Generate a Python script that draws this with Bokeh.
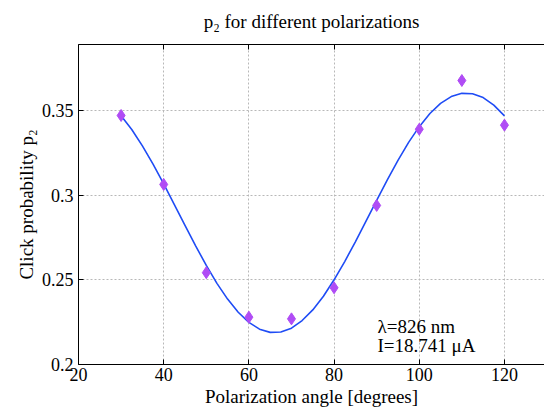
from bokeh.plotting import figure
from bokeh.models import Range1d, LinearAxis, FixedTicker, Label, Title
from bokeh.embed import file_html
from bokeh.resources import INLINE

# Measured data (diamonds)
angle = [30, 40, 50, 60, 70, 80, 90, 100, 110, 120]
p2 = [0.3473, 0.3065, 0.2543, 0.2280, 0.2270, 0.2454, 0.2941, 0.3392, 0.3680, 0.3416]

# Fit curve, values every 2.5 degrees
fit_angle = [30, 32.5, 35, 37.5, 40, 42.5, 45, 47.5, 50, 52.5, 55, 57.5, 60, 62.5,
             65, 67.5, 70, 72.5, 75, 77.5, 80, 82.5, 85, 87.5, 90, 92.5, 95, 97.5,
             100, 102.5, 105, 107.5, 110, 112.5, 115, 117.5, 120]
fit_p2 = [0.3471, 0.3390, 0.3293, 0.3185, 0.3069, 0.2946, 0.2823, 0.2702, 0.2586,
          0.2480, 0.2387, 0.2309, 0.2249, 0.2209, 0.2190, 0.2192, 0.2215, 0.2260,
          0.2323, 0.2404, 0.2501, 0.2609, 0.2726, 0.2848, 0.2971, 0.3092, 0.3208,
          0.3314, 0.3407, 0.3485, 0.3545, 0.3585, 0.3604, 0.3602, 0.3579, 0.3534,
          0.3471]

x_ticks = [20, 40, 60, 80, 100, 120]
y_ticks = [0.2, 0.25, 0.3, 0.35]
y_tick_labels = ["0.2", "0.25", "0.3", "0.35"]

title_text = "p\u2082 for different polarizations"
note_lines = ["\u03bb=826 nm", "I=18.741 \u03bcA"]

FONT = "Liberation Serif"

p = figure(width=544, height=410, output_backend="svg", toolbar_location=None,
           x_range=Range1d(20, 129.4), y_range=Range1d(0.2, 0.3893),
           min_border_left=78, min_border_right=0, min_border_top=44,
           min_border_bottom=46, x_axis_location=None, y_axis_location=None)
p.outline_line_color = None
p.background_fill_color = "white"
p.border_fill_color = "white"

p.title.text = title_text
p.title.align = "center"
p.title.text_font = FONT
p.title.text_font_size = "19px"
p.title.text_font_style = "normal"
p.title.text_color = "black"

def style_axis(ax, labels=True):
    ax.axis_line_color = "black"
    ax.axis_line_width = 1
    ax.major_tick_in = 5
    ax.major_tick_out = 0
    ax.minor_tick_line_color = None
    ax.major_tick_line_color = "black"
    ax.major_label_text_font = FONT
    ax.major_label_text_font_size = "18px"
    ax.major_label_text_color = "black" if labels else None
    ax.axis_label_text_font = FONT
    ax.axis_label_text_font_size = "19px"
    ax.axis_label_text_font_style = "normal"
    ax.axis_label_text_color = "black"

xb = LinearAxis(ticker=FixedTicker(ticks=x_ticks), axis_label="Polarization angle [degrees]")
style_axis(xb)
xb.major_label_standoff = 3
xb.axis_label_standoff = 2
p.add_layout(xb, "below")

xt = LinearAxis(ticker=FixedTicker(ticks=x_ticks))
style_axis(xt, labels=False)
xt.major_label_text_font_size = "0px"
p.add_layout(xt, "above")

# empty spacer between top axis and title
p.add_layout(Title(text=" ", text_font_size="6px", standoff=0), "above")

yl = LinearAxis(ticker=FixedTicker(ticks=y_ticks), axis_label="Click probability p\u2082")
style_axis(yl)
yl.major_label_overrides = {t: s for t, s in zip(y_ticks, y_tick_labels)}
yl.major_label_standoff = 5
yl.axis_label_standoff = 2
p.add_layout(yl, "left")

# Grid
p.xgrid.ticker = FixedTicker(ticks=x_ticks)
p.ygrid.ticker = FixedTicker(ticks=y_ticks)
for g in (p.xgrid, p.ygrid):
    g.grid_line_color = "#b8b8b8"
    g.grid_line_dash = "2 2"
    g.grid_line_width = 1

p.line(fit_angle, fit_p2, line_color="#1f4cf5", line_width=1.6)
p.scatter(angle, p2, marker="diamond", size=12, fill_color="#b04cf5",
          line_color="#b04cf5", line_width=1)

p.add_layout(Label(x=90.2, y=0.2225, text=note_lines[0], text_font=FONT,
                   text_font_size="19px", text_color="black", text_baseline="alphabetic"))
p.add_layout(Label(x=90.2, y=0.2112, text=note_lines[1], text_font=FONT,
                   text_font_size="19px", text_color="black", text_baseline="alphabetic"))

open("out.html", "w").write(file_html(p, INLINE))
